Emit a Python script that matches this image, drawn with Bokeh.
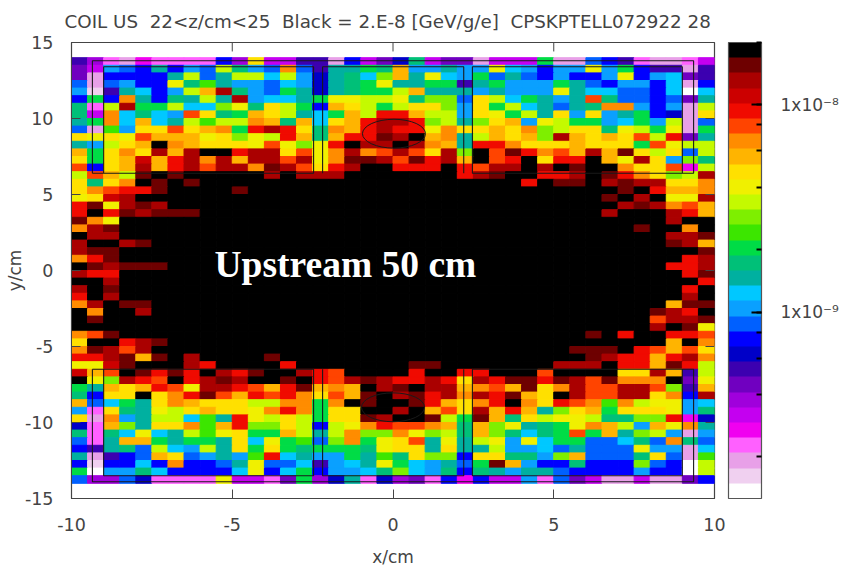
from bokeh.plotting import figure
from bokeh.embed import file_html
from bokeh.resources import INLINE
from bokeh.models import (ColumnDataSource, LogColorMapper, LinearColorMapper, ColorBar, FixedTicker,
                          Label, Title, LogTicker, CustomJSTickFormatter, Range1d)
from bokeh.transform import transform

TITLE = "COIL US\u00a0 22<z/cm<25\u00a0 Black = 2.E-8 [GeV/g/e]\u00a0 CPSKPTELL072922 28"
NOTE = "Upstream 50 cm"
VALUE_LOW = 1.26e-10
VALUE_HIGH = 2e-8

# colour bands from top (black) to bottom (white) of the colour key
LEVELS = "KDERroOAYyLlGgtTCcBNnIPVvMmhwW"
COLOURS = ["#000000", "#6e0000", "#aa0000", "#cc0000", "#f00a00", "#ff4400", "#ff8c00", "#ffb400",
           "#ffe000", "#f0f000", "#c4fa00", "#7eef00", "#3ce600", "#00dc46", "#00c078", "#00b0a0",
           "#00c8ff", "#0aa0ff", "#0060ff", "#0000ff", "#0000c8", "#3c00b0", "#7000c0", "#a000dc",
           "#c400f0", "#f000f0", "#ff60ff", "#e8a0e8", "#f0d0f0", "#ffffff"]

# x from -10 to 0 and 0 to 10, rows from y=14 down to y=-14, 0.5 cm cells
LEFT_CELLS = [
    "IVmhMmmmmNVYvvIIhNvP", "PvcBNTNcBLtcBOBITTgt", "PhNNNNTLBTLLCLcnTtCl", "BhBcNNytGTccBCcnTtgy",
    "cwITCNcLAEtcBgTnTtgg", "NgNOTNtTLTEcCCTgyyLL", "tmLEggLCClytYLgNAYLg", "tvOCtCcoYtgAYLTCgALr",
    "TgOCACTLGLLOAtACYArE", "BhGcYYoYAOgrErYtOArE", "YyYyoAAAyYlyLrAtArrD", "TcLYAKOAYYYyoylyrKEE",
    "AgYOYEAEKKrEEYoyOEOo", "YgYARArEOEAEEoEyODDE", "oNYAEArEoEEODEoYrEKK", "LoALDKDKKKKKEKEEEKKK",
    "YtYOKDKDKKKKKKKKKKKK", "YOorrDKKKKDKKKKKKKKK", "yYREKKKKKKKKKKKKKKKK", "rDyEDEKKKKKKKKKKKKKK",
    "rKrDEDDDKKKKKKKKKKKK", "DOyKKKKKKKKKKKKKKKKK", "OEDKKKKKKKKKKKKKKKKK", "KEEKKKKKKKKKKKKKKKKK",
    "EKKEDKKKKKKKKKKKKKKK", "EDDKKKKKKKKKKKKKKKKK", "OrDKKKKKKKKKKKKKKKKK", "KDEDDDKKKKKKKKKKKKKK",
    "ErrKKKKKKKKKKKKKKKKK", "KKEKKKKKKKKKKKKKKKKK", "EKDKKKKKKKKKKKKKKKKK", "rKEKKKKKKKKKKKKKKKKK",
    "OEKDDKKKKKKKKKKKKKKK", "KOKKEKKKKKKKKKKKKKKK", "KDKKKKKKKKKKKKKKKKKK", "KKKKKKKKKKKKKKKKKKKK",
    "OoDKKKKKKKKKKKKKKKKK", "YKKrEDKKKKKKKKKKKKKK", "ODEoEKKKKKKKKKKKKKKK", "rrEDADKEKKKKDKKKKKKK",
    "yyRDKKKErKKKKrKKKKKK", "RAoKDrDrKErDKKEroKKK", "KylEroKrEDEKKDKroEDE", "gTAYAroyEEroArDAOAKE",
    "tNYYKYOrDoArorOYoADK", "ABCgTYOAYYYLLOOgOKDK", "cmYtTyLYAYYyOrOgYYKK", "YhOcTLLCGTryLYLgYYDE",
    "nmAlTYYOGArllYLNLyOr", "tmtCyCTLGyYggALTLOll", "BmTAAgTggTYCygGBlOgy", "NITtBLCcLTYgYgtgggty",
    "ThINBAYBcTcGrCTccgTG", "NwNNCNONNBTyBBCIcCTy", "gWcctCNNNNCyNCgNccCt", "BVVBnmmmmyvvmPgVnTmn",
]
RIGHT_CELLS = [
    "ntvPPhvvvghhBNImhhmv", "AccTccyCcNccycgNIIhI", "ATyCcgBTBNcNNcyNcCPI", "TTggITgcccgTBNccNChN",
    "LATTTcTcccyTCCBBNCWC", "ytllBYLCgTcTotBBNBPT", "LYYlcYgLCTBTtOOcNchL", "rALLcYygLTYcYcTgNnhY",
    "ErlLTlYAcyLggcCgcLhB", "rryOYYAYOlLYYtyLgyhg", "EKAOTLAYAlEAYAYoLrPT", "KEOATrrOYYYAYYYgoyLL",
    "EoYElKoDrOoAEADYLYBL", "oDrEAKorKYrrKAyEYclt", "rrrKroEEKEKDKKOYYoML", "KKKKrEDKKrrEKDrOYlLE",
    "KKKKKKKKrKDDKEDEEYYO", "KKKKKKKKKKKKKKDKrAAO", "KKKKKKKKKKKKKDKEKyyE", "KKKKKKKKKKKKKKEDEOoA",
    "KKKKKKKKKKKKKEKKKErA", "KKKKKKKKKKKKKKKKKEKK", "KKKKKKKKKKKKKKKDKKOK", "KKKKKKKKKKKKKKKKKEED",
    "KKKKKKKKKKKKKKKKKDEA", "KKKKKKKKKKKKKKKKKKKD", "KKKKKKKKKKKKKKKKKKrE", "KKKKKKKKKKKKKKKKKrrE",
    "KKKKKKKKKKKKKKKKKKrD", "KKKKKKKKKKKKKKKKKKKr", "KKKKKKKKKKKKKKKKKKrK", "KKKKKKKKKKKKKKKKKKEK",
    "KKKKKKKKKKKKKKKKKADD", "KKKKKKKKKKKKKKKKDErK", "KKKKKKKKKKKKKKKKoEED", "KKKKKKKKKKKKKKKKEKDy",
    "KKKKKKKKKKKKDKrKKrro", "KKKKKKKKKKKKKKKKKAKO", "KKKKKKKKKKKDDDKroAoY", "KKKKKKKKKKKKDErrArEO",
    "KDDKKKKKKKEEEKrrADrL", "KrKKrrKKKoKKKKYYEAIL", "rrErYErDDrDEoDOOOKPy", "DKEEAOoADYOEooEEolIA",
    "EDrEOErDAYKEooEEYONE", "KDrAYOrKOYroOGOLyycC", "EKAoYEArATlYAgYYYyct", "KKDLgDAtYLyyLttllrMn",
    "ooOAtAlyTtgyOALcAyOT", "OylLtAltCtgogATlLchc", "YoTyTLycyCggBBCtBOtB", "YYTYTTLccCBTBBBycchC",
    "tYllNYYttclABBBtYBhG", "gCcTBgDAcNNtNNNlBNWL", "lCctNtTcTTBNNNNcNNWL", "VPmNMNvvcmBPvhhvhhPN",
]

# coil frame outlines (x/cm, y/cm)
FRAME_X = [
    [-9.35, -9.35, 9.35, 9.35, 2.47, 2.47, 9.0, 9.0],
    [-9.0, -9.0, -2.47, -2.47, -9.35],
    [-2.19, -2.19, 2.2, 2.2],
    [-9.35, -9.35, 9.35, 9.35, 2.47, 2.47, 9.0, 9.0],
    [-9.0, -9.0, -2.47, -2.47, -9.35],
    [-2.19, -2.19, 2.2, 2.2],
]
FRAME_Y = [
    [6.4, 13.8, 13.8, 6.4, 6.4, 13.4, 13.4, 6.4],
    [6.4, 13.4, 13.4, 6.4, 6.4],
    [6.4, 13.4, 13.4, 6.4],
    [-6.5, -13.9, -13.9, -6.5, -6.5, -13.5, -13.5, -6.5],
    [-6.5, -13.5, -13.5, -6.5, -6.5],
    [-6.5, -13.5, -13.5, -6.5],
]
HOLE_X = [0.03, 0.0]
HOLE_Y = [9.0, -9.0]
HOLE_W = [1.96, 1.96]
HOLE_H = [1.9, 1.9]
X_TICKS = [-10, -5, 0, 5, 10]
Y_TICKS = [-15, -10, -5, 0, 5, 10, 15]

INK = "#444444"
FONT = "DejaVu Sans"

xs, ys, levels = [], [], []
for r, (a, b) in enumerate(zip(LEFT_CELLS, RIGHT_CELLS)):
    for c, ch in enumerate(a + b):
        xs.append(-10 + 0.5 * c + 0.25)
        ys.append(14 - 0.5 * r - 0.25)
        levels.append(LEVELS.index(ch) + 0.5)

cell_mapper = LinearColorMapper(palette=COLOURS, low=0, high=len(COLOURS))
key_mapper = LogColorMapper(palette=COLOURS[::-1], low=VALUE_LOW, high=VALUE_HIGH)

p = figure(frame_width=643, frame_height=456, x_range=Range1d(-10, 10), y_range=Range1d(-15, 15),
           output_backend="svg", toolbar_location=None, x_axis_label="x/cm", y_axis_label="y/cm",
           min_border_left=71, min_border_top=42, min_border_bottom=60, min_border_right=126)
p.grid.visible = False
p.outline_line_color = INK
p.outline_line_width = 1.2

src = ColumnDataSource(dict(x=xs, y=ys, v=levels))
p.rect("x", "y", width=0.5, height=0.5, source=src, fill_color=transform("v", cell_mapper),
       line_color=transform("v", cell_mapper), line_width=1)
p.multi_line(FRAME_X, FRAME_Y, line_color="#1a1a1a", line_width=1.1)
p.ellipse(HOLE_X, HOLE_Y, width=HOLE_W, height=HOLE_H, fill_color=None, line_color="#1a1a1a", line_width=1)

# inward ticks mirrored on the top and right edges
p.segment(X_TICKS, [15] * len(X_TICKS), X_TICKS, [14.41] * len(X_TICKS), line_color=INK, line_width=1)
p.segment([10] * len(Y_TICKS), Y_TICKS, [9.72] * len(Y_TICKS), Y_TICKS, line_color=INK, line_width=1)

for ax, tk in ((p.xaxis[0], X_TICKS), (p.yaxis[0], Y_TICKS)):
    ax.ticker = FixedTicker(ticks=tk)
    ax.major_label_overrides = {t: str(t) for t in tk}
    ax.major_tick_in = 9
    ax.major_tick_out = 0
    ax.minor_tick_line_color = None
    ax.axis_line_color = INK
    ax.major_tick_line_color = INK
    ax.major_label_text_font = FONT
    ax.major_label_text_font_size = "17.5px"
    ax.major_label_text_color = INK
    ax.major_label_standoff = 18
    ax.axis_label_text_font = FONT
    ax.axis_label_text_font_size = "17px"
    ax.axis_label_text_font_style = "normal"
    ax.axis_label_text_color = INK
p.xaxis[0].major_label_standoff = 19
p.xaxis[0].axis_label_standoff = 13
p.yaxis[0].axis_label_standoff = -3

p.add_layout(Title(text=TITLE, align="left", offset=-7, text_font=FONT, text_font_size="18.3px",
                   text_font_style="normal", text_color=INK, vertical_align="top", standoff=18), "above")

p.add_layout(Label(x=-1.48, y=0.4, text=NOTE, text_color="white", text_font="Liberation Serif",
                   text_font_size="37.5px", text_font_style="bold", text_align="center",
                   text_baseline="middle"))

bar = ColorBar(color_mapper=key_mapper, width=33, height=456, margin=0, padding=0,
               ticker=LogTicker(), location=(14, 0),
               formatter=CustomJSTickFormatter(code="""
                   const e = Math.round(Math.log10(tick));
                   const s = {8: '\u2078', 9: '\u2079'}[-e] || '';
                   return '1x10\u207b' + s;"""),
               major_label_text_font=FONT, major_label_text_font_size="17px",
               major_label_text_color=INK, label_standoff=19,
               major_tick_in=10, major_tick_line_color="#000000", major_tick_line_width=2,
               minor_tick_in=5, minor_tick_line_color="#000000", minor_tick_line_width=2,
               bar_line_color="#555555", bar_line_width=1.2)
p.add_layout(bar, "right")

open("out.html", "w").write(file_html(p, INLINE))
